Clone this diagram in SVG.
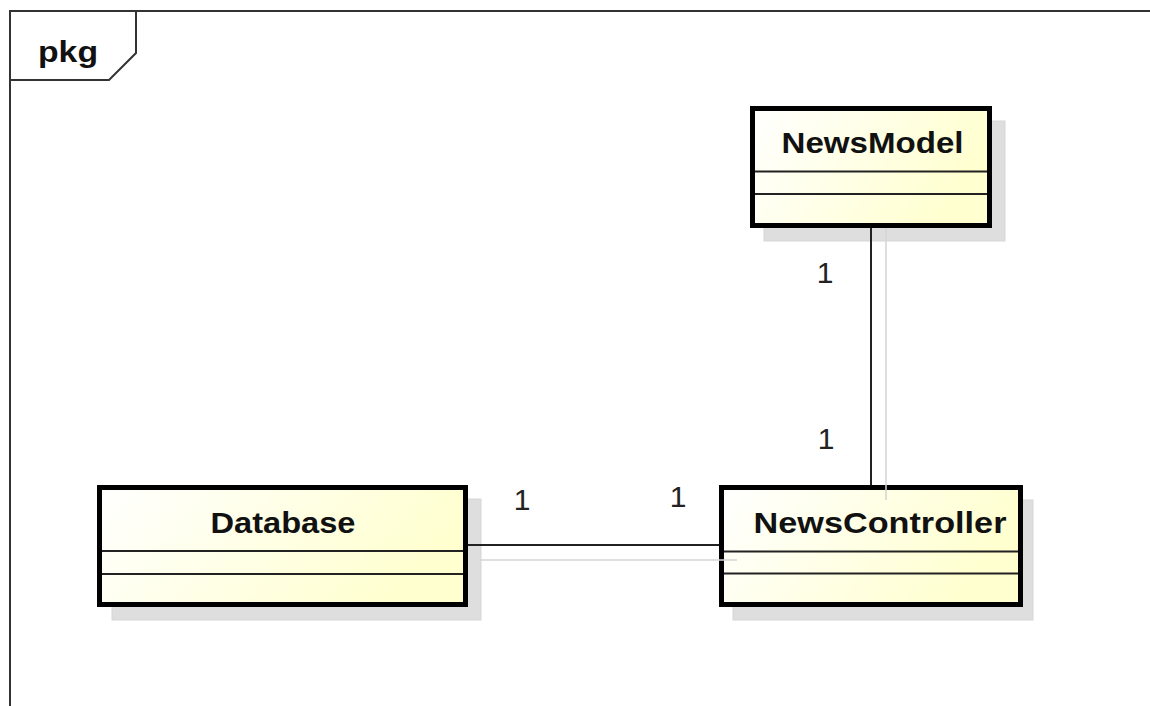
<svg xmlns="http://www.w3.org/2000/svg" width="1150" height="706" viewBox="0 0 1150 706">
  <defs>
    <linearGradient id="classFill" x1="0" y1="0" x2="1" y2="0.3">
      <stop offset="0" stop-color="#ffffff"/>
      <stop offset="1" stop-color="#ffffcf"/>
    </linearGradient>
  </defs>
  <style>
    .frame { fill: none; stroke: #333333; stroke-width: 2; }
    .tab { fill: #ffffff; stroke: #333333; stroke-width: 2; }
    .shadow { fill: #dedede; stroke: #d6d6d6; stroke-width: 1; }
    .box { fill: url(#classFill); stroke: #000000; stroke-width: 5; }
    .sep { stroke: #222222; stroke-width: 2; }
    .name { font-family: "Liberation Sans", Arial, sans-serif; font-weight: bold; font-size: 30px; fill: #111111; text-anchor: middle; }
    .mult { font-family: "Liberation Sans", Arial, sans-serif; font-size: 30px; fill: #222222; text-anchor: middle; }
    .assoc { stroke: #222222; stroke-width: 2; fill: none; }
    .assoc-shadow { stroke: #d4d4d4; stroke-width: 1.5; fill: none; }
  </style>

  <!-- package frame -->
  <g id="package">
    <path class="frame" d="M10,720 L10,11 L1160,11"/>
    <polygon class="tab" points="10,11 136,11 136,53 109,80 10,80"/>
    <text class="name" x="68" y="62" textLength="60" lengthAdjust="spacingAndGlyphs">pkg</text>
  </g>

  <!-- classes -->
  <g id="NewsModel">
    <rect class="shadow" x="764" y="121" width="241" height="120"/>
    <rect class="box" x="752.5" y="108.5" width="237" height="117"/>
    <line class="sep" x1="755" y1="171.5" x2="987" y2="171.5"/>
    <line class="sep" x1="755" y1="194" x2="987" y2="194"/>
    <text class="name" x="872.5" y="153" textLength="182" lengthAdjust="spacingAndGlyphs">NewsModel</text>
  </g>

  <g id="Database">
    <rect class="shadow" x="112" y="499" width="369" height="121"/>
    <rect class="box" x="99.5" y="487.5" width="366" height="117"/>
    <line class="sep" x1="102" y1="551" x2="463" y2="551"/>
    <line class="sep" x1="102" y1="574" x2="463" y2="574"/>
    <text class="name" x="283" y="533" textLength="145" lengthAdjust="spacingAndGlyphs">Database</text>
  </g>

  <g id="NewsController">
    <rect class="shadow" x="733" y="500" width="300" height="120"/>
    <rect class="box" x="721.5" y="487.5" width="299" height="117"/>
    <line class="sep" x1="724" y1="551.5" x2="1018" y2="551.5"/>
    <line class="sep" x1="724" y1="573.5" x2="1018" y2="573.5"/>
    <text class="name" x="880" y="533" textLength="253" lengthAdjust="spacingAndGlyphs">NewsController</text>
  </g>

  <!-- associations, drawn over the class shadows -->
  <g id="connectors">
    <line class="assoc-shadow" x1="886" y1="228" x2="886" y2="500"/>
    <line class="assoc-shadow" x1="480" y1="560" x2="737" y2="560"/>
    <line class="assoc" x1="871" y1="228" x2="871" y2="485"/>
    <line class="assoc" x1="468" y1="545" x2="719" y2="545"/>
    <text class="mult" x="825" y="283">1</text>
    <text class="mult" x="826" y="449">1</text>
    <text class="mult" x="522" y="510">1</text>
    <text class="mult" x="678" y="507">1</text>
  </g>
</svg>
